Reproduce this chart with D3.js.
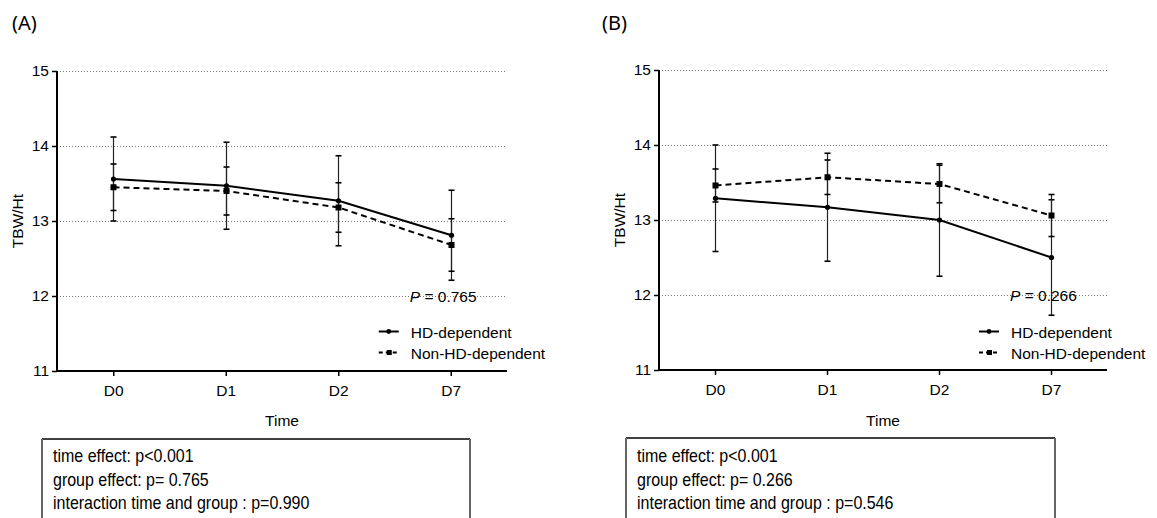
<!DOCTYPE html>
<html>
<head>
<meta charset="utf-8">
<script src="https://cdn.jsdelivr.net/npm/d3@7"></script>
<style>
  html, body { margin: 0; padding: 0; background: #fff; }
  svg { display: block; }
</style>
</head>
<body>
<svg id="chart" width="1157" height="518"></svg>
<script>
// ---------- data ----------
const timepoints = ["D0", "D1", "D2", "D7"];
const yTickValues = [11, 12, 13, 14, 15];
const seriesNames = ["HD-dependent", "Non-HD-dependent"];

// Panel A
const hdMeanA = [13.56, 13.47, 13.27, 12.81];
const hdSdA = [0.56, 0.58, 0.60, 0.60];
const nonMeanA = [13.45, 13.40, 13.18, 12.68];
const nonSdA = [0.31, 0.32, 0.33, 0.35];

// Panel B
const hdMeanB = [13.29, 13.17, 13.00, 12.50];
const hdSdB = [0.71, 0.72, 0.75, 0.77];
const nonMeanB = [13.46, 13.57, 13.48, 13.06];
const nonSdB = [0.22, 0.23, 0.25, 0.28];

const panelLabels = ["(A)", "(B)"];
const pValueLabels = ["0.765", "0.266"];
const statsA = ["time effect: p<0.001", "group effect: p= 0.765", "interaction time and group : p=0.990"];
const statsB = ["time effect: p<0.001", "group effect: p= 0.266", "interaction time and group : p=0.546"];

// ---------- layout ----------
const FONT = "'Liberation Sans', Arial, sans-serif";
const svg = d3.select("#chart");

const panels = [
  { label: panelLabels[0], labelX: 12, x0: 57, x1: 507, yTop: 71, yBot: 371,
    hd: hdMeanA, hdSd: hdSdA, non: nonMeanA, nonSd: nonSdA, p: pValueLabels[0],
    stats: statsA, boxX: 42, boxR: 470, boxY: 439, titleX: 18 },
  { label: panelLabels[1], labelX: 602, x0: 659, x1: 1107, yTop: 70, yBot: 370,
    hd: hdMeanB, hdSd: hdSdB, non: nonMeanB, nonSd: nonSdB, p: pValueLabels[1],
    stats: statsB, boxX: 626, boxR: 1055, boxY: 438, titleX: 620 }
];

panels.forEach(P => {
  const g = svg.append("g");
  const x = d3.scalePoint().domain(timepoints).range([P.x0, P.x1]).padding(0.5);
  const y = d3.scaleLinear().domain([11, 15]).range([P.yBot, P.yTop]);

  // panel label
  g.append("text").attr("x", P.labelX).attr("y", 30)
    .attr("font-family", "'Noto Sans', 'Open Sans', sans-serif")
    .attr("font-size", 20).attr("fill", "#000").text(P.label);

  // gridlines
  g.append("g").selectAll("line").data(yTickValues.filter(v => v > 11)).join("line")
    .attr("x1", P.x0).attr("x2", P.x1)
    .attr("y1", d => Math.round(y(d)) + 0.5).attr("y2", d => Math.round(y(d)) + 0.5)
    .attr("stroke", "#777").attr("stroke-width", 1).attr("stroke-dasharray", "1,2");

  const series = [
    { mean: P.hd, sd: P.hdSd, dash: null, marker: "circle" },
    { mean: P.non, sd: P.nonSd, dash: "6,4", marker: "square" }
  ];

  // error bars
  series.forEach(s => {
    const eb = g.append("g");
    const d = timepoints.map((t, i) => ({ t, m: s.mean[i], sd: s.sd[i] }));
    eb.selectAll("line.v").data(d).join("line").attr("class", "v")
      .attr("x1", e => Math.round(x(e.t)) + 0.5).attr("x2", e => Math.round(x(e.t)) + 0.5)
      .attr("y1", e => y(e.m + e.sd)).attr("y2", e => y(e.m - e.sd))
      .attr("stroke", "#222").attr("stroke-width", 1.2);
    ["hi", "lo"].forEach(k => {
      eb.selectAll("line.c" + k).data(d).join("line").attr("class", "c" + k)
        .attr("x1", e => Math.round(x(e.t)) + 0.5 - 3).attr("x2", e => Math.round(x(e.t)) + 0.5 + 3)
        .attr("y1", e => y(k === "hi" ? e.m + e.sd : e.m - e.sd))
        .attr("y2", e => y(k === "hi" ? e.m + e.sd : e.m - e.sd))
        .attr("stroke", "#000").attr("stroke-width", 1.6);
    });
  });

  // lines + markers
  series.forEach(s => {
    const d = timepoints.map((t, i) => ({ t, m: s.mean[i] }));
    const line = d3.line().x(e => Math.round(x(e.t)) + 0.5).y(e => y(e.m));
    g.append("path").datum(d).attr("d", line)
      .attr("fill", "none").attr("stroke", "#000").attr("stroke-width", 2)
      .attr("stroke-dasharray", s.dash);
    if (s.marker === "circle") {
      g.append("g").selectAll("circle").data(d).join("circle")
        .attr("cx", e => Math.round(x(e.t)) + 0.5).attr("cy", e => y(e.m)).attr("r", 2.6).attr("fill", "#000");
    } else {
      g.append("g").selectAll("rect").data(d).join("rect")
        .attr("x", e => Math.round(x(e.t)) + 0.5 - 3).attr("y", e => y(e.m) - 3)
        .attr("width", 6).attr("height", 6).attr("fill", "#000");
    }
  });

  // axes
  const yAxis = d3.axisLeft(y).tickValues(yTickValues).tickSize(5).tickPadding(3).tickFormat(d3.format("d"));
  const ya = g.append("g").attr("transform", `translate(${P.x0},0)`).call(yAxis);
  const xAxis = d3.axisBottom(x).tickSize(5).tickPadding(9);
  const xa = g.append("g").attr("transform", `translate(0,${P.yBot})`).call(xAxis);
  [ya, xa].forEach(a => {
    a.select(".domain").attr("stroke", "#000").attr("stroke-width", 2);
    a.selectAll(".tick line").attr("stroke", "#000").attr("stroke-width", 1.5);
    a.selectAll(".tick text").attr("font-family", FONT).attr("font-size", 15.5).attr("fill", "#000");
  });
  ya.select(".domain").attr("d", `M0,${P.yTop}V${P.yBot}`);
  xa.select(".domain").attr("d", `M${P.x0},0H${P.x1}`);

  // axis titles
  g.append("text").attr("x", (P.x0 + P.x1) / 2).attr("y", 426)
    .attr("text-anchor", "middle").attr("font-family", FONT).attr("font-size", 15.5).text("Time");
  g.append("text").attr("transform", `translate(${P.titleX + 5},${(P.yTop + P.yBot) / 2}) rotate(-90)`)
    .attr("text-anchor", "middle").attr("font-family", FONT).attr("font-size", 15.5).text("TBW/Ht");

  // P value annotation
  const pt = g.append("text").attr("x", x("D7") - 41).attr("y", y(12) + 5.5)
    .attr("font-family", FONT).attr("font-size", 15.5).attr("fill", "#000");
  pt.append("tspan").attr("font-style", "italic").text("P");
  pt.append("tspan").text(" = " + P.p);

  // legend
  const lx = x("D7") - 72;
  seriesNames.forEach((name, i) => {
    const ly = 331.5 + i * 21;
    const lg = g.append("g");
    lg.append("line").attr("x1", lx).attr("x2", lx + 20).attr("y1", ly).attr("y2", ly)
      .attr("stroke", "#000").attr("stroke-width", 2).attr("stroke-dasharray", i === 0 ? null : "4,3");
    if (i === 0) lg.append("circle").attr("cx", lx + 10).attr("cy", ly).attr("r", 2.4);
    else lg.append("rect").attr("x", lx + 8).attr("y", ly - 2.5).attr("width", 5).attr("height", 5);
    lg.append("text").attr("x", lx + 32).attr("y", ly + 6)
      .attr("font-family", FONT).attr("font-size", 15.5).text(name);
  });

  // stats box
  g.append("line").attr("x1", P.boxX).attr("x2", P.boxR).attr("y1", P.boxY).attr("y2", P.boxY)
    .attr("stroke", "#000").attr("stroke-width", 1.5);
  g.append("line").attr("x1", P.boxX).attr("x2", P.boxX).attr("y1", P.boxY).attr("y2", 518)
    .attr("stroke", "#666").attr("stroke-width", 2);
  g.append("line").attr("x1", P.boxR).attr("x2", P.boxR).attr("y1", P.boxY).attr("y2", 518)
    .attr("stroke", "#666").attr("stroke-width", 2);
  g.selectAll("text.stat").data(P.stats).join("text").attr("class", "stat")
    .attr("transform", (d, i) => `translate(${P.boxX + 11},${462 + i * 23.7}) scale(1,1.2)`)
    .attr("font-family", FONT).attr("font-size", 16).attr("fill", "#000").text(d => d);
});
</script>
</body>
</html>
